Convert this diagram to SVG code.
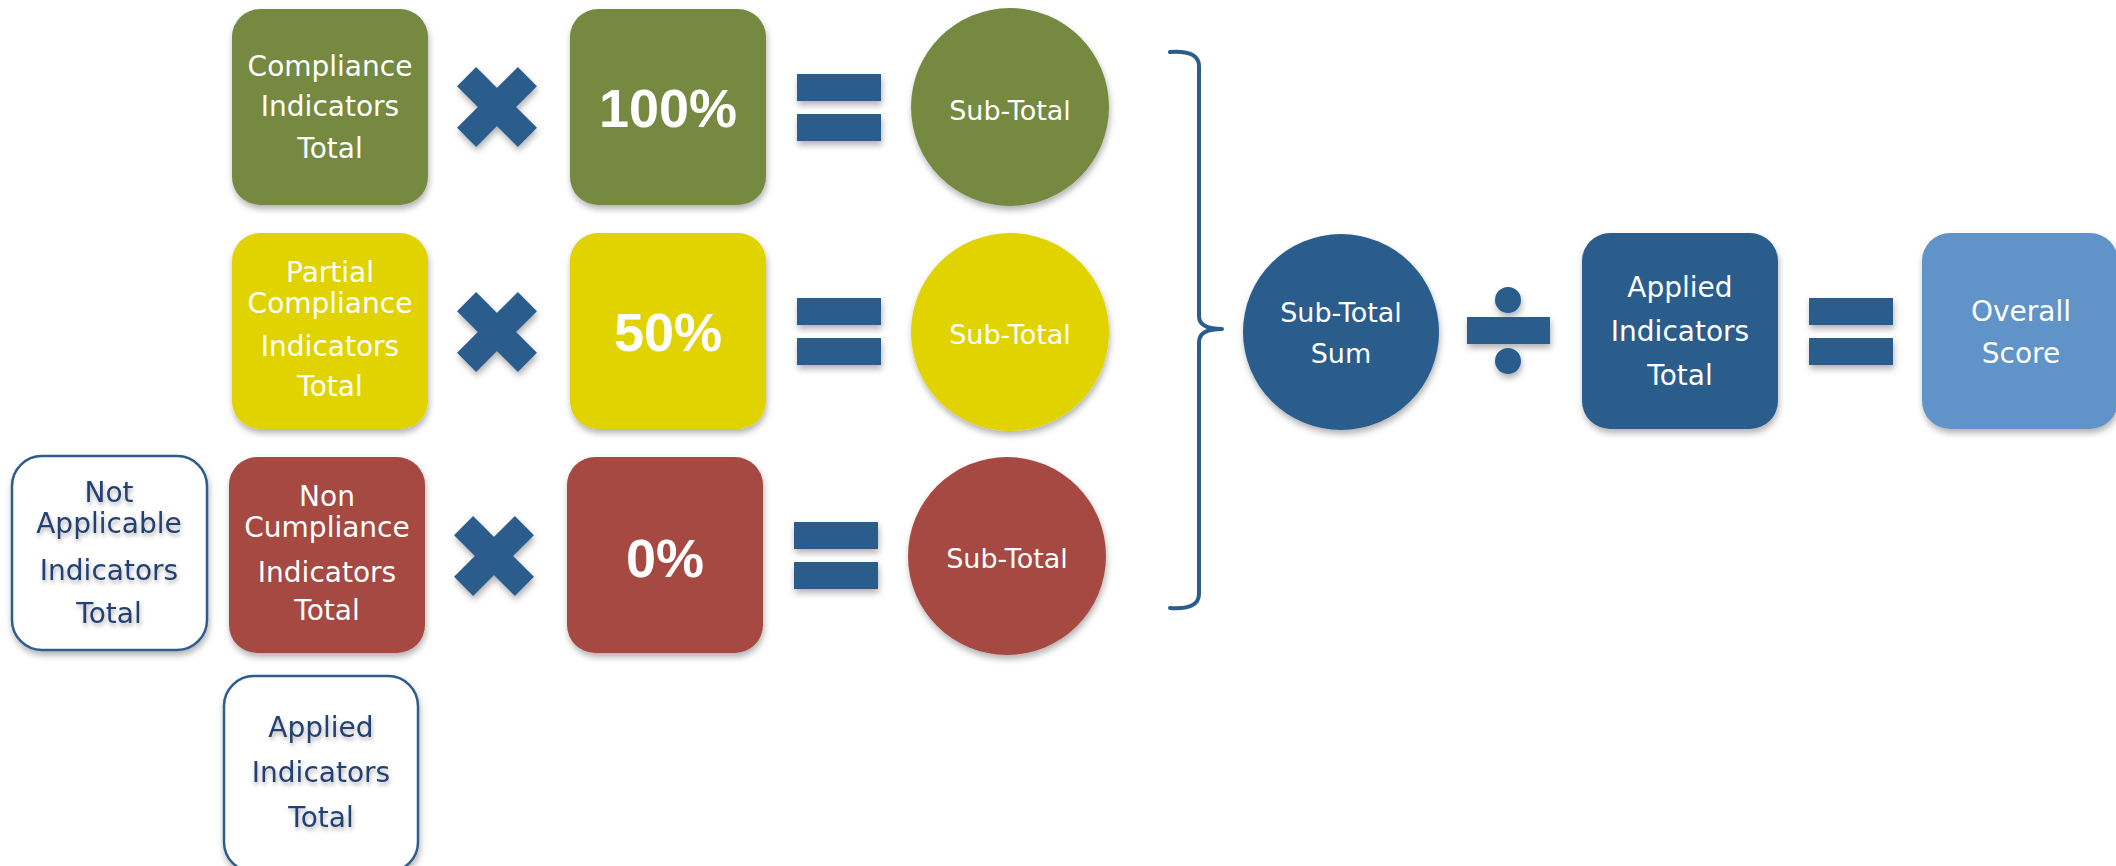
<svg xmlns="http://www.w3.org/2000/svg" width="2116" height="866" viewBox="0 0 2116 866">
  <defs>
    <filter id="shadow" x="-20%" y="-20%" width="140%" height="150%">
      <feDropShadow dx="1" dy="4" stdDeviation="3" flood-color="#000" flood-opacity="0.3"/>
    </filter>
    <filter id="tshadow" x="-10%" y="-20%" width="120%" height="160%">
      <feDropShadow dx="1" dy="3" stdDeviation="2" flood-color="#000" flood-opacity="0.3"/>
    </filter>
    <g id="times">
      <rect x="-43" y="-13.5" width="86" height="27" transform="rotate(45)"/>
      <rect x="-43" y="-13.5" width="86" height="27" transform="rotate(-45)"/>
    </g>
    <g id="equals">
      <rect x="0" y="0" width="84" height="27"/>
      <rect x="0" y="40" width="84" height="27"/>
    </g>
  </defs>
  <style>
    .green { fill: #76893f; }
    .yellow { fill: #e1d300; }
    .red { fill: #a54a43; }
    .blue { fill: #2a5d8c; }
    .light { fill: #6193c7; }
    .shape { filter: url(#shadow); }
    .outline { fill: #ffffff; stroke: #2f5b8c; stroke-width: 2.5; filter: url(#shadow); }
    .op { fill: #2a5d8c; filter: url(#shadow); }
    text { font-family: "DejaVu Sans", "Liberation Sans", sans-serif; text-anchor: middle; }
    .lbl { font-size: 28px; fill: #ffffff; }
    .sub { font-size: 27px; fill: #ffffff; }
    .dark { font-size: 28px; fill: #233f72; filter: url(#tshadow); }
    .pct { font-family: "Liberation Sans", Arial, sans-serif; font-weight: bold; font-size: 54px; fill: #ffffff; }
    .brace { fill: none; stroke: #2a5d8c; stroke-width: 4; stroke-linecap: round; stroke-linejoin: round; }
  </style>

  <!-- Row 1: compliance -->
  <g id="compliance-total">
    <rect class="green shape" x="232" y="9" width="196" height="196" rx="28"/>
    <text class="lbl" x="330" y="76">Compliance</text>
    <text class="lbl" x="330" y="116">Indicators</text>
    <text class="lbl" x="330" y="158">Total</text>
  </g>
  <g id="times-1" class="op"><use href="#times" transform="translate(497,107)"/></g>
  <g id="pct-100">
    <rect class="green shape" x="570" y="9" width="196" height="196" rx="28"/>
    <text class="pct" x="668" y="127">100%</text>
  </g>
  <g id="equals-1" class="op"><use href="#equals" transform="translate(797,74)"/></g>
  <g id="subtotal-1">
    <circle class="green shape" cx="1010" cy="107" r="99"/>
    <text class="sub" x="1010" y="120">Sub-Total</text>
  </g>

  <!-- Row 2: partial compliance -->
  <g id="partial-total">
    <rect class="yellow shape" x="232" y="233" width="196" height="196" rx="28"/>
    <text class="lbl" x="330" y="282">Partial</text>
    <text class="lbl" x="330" y="313">Compliance</text>
    <text class="lbl" x="330" y="356">Indicators</text>
    <text class="lbl" x="330" y="396">Total</text>
  </g>
  <g id="times-2" class="op"><use href="#times" transform="translate(497,332)"/></g>
  <g id="pct-50">
    <rect class="yellow shape" x="570" y="233" width="196" height="196" rx="28"/>
    <text class="pct" x="668" y="351">50%</text>
  </g>
  <g id="equals-2" class="op"><use href="#equals" transform="translate(797,298)"/></g>
  <g id="subtotal-2">
    <circle class="yellow shape" cx="1010" cy="332" r="99"/>
    <text class="sub" x="1010" y="344">Sub-Total</text>
  </g>

  <!-- Row 3: non compliance -->
  <g id="not-applicable-total">
    <rect class="outline" x="12" y="456" width="195" height="194" rx="30"/>
    <text class="dark" x="109" y="502">Not</text>
    <text class="dark" x="109" y="533">Applicable</text>
    <text class="dark" x="109" y="580">Indicators</text>
    <text class="dark" x="109" y="623">Total</text>
  </g>
  <g id="non-compliance-total">
    <rect class="red shape" x="229" y="457" width="196" height="196" rx="28"/>
    <text class="lbl" x="327" y="506">Non</text>
    <text class="lbl" x="327" y="537">Cumpliance</text>
    <text class="lbl" x="327" y="582">Indicators</text>
    <text class="lbl" x="327" y="620">Total</text>
  </g>
  <g id="times-3" class="op"><use href="#times" transform="translate(494,556)"/></g>
  <g id="pct-0">
    <rect class="red shape" x="567" y="457" width="196" height="196" rx="28"/>
    <text class="pct" x="665" y="577">0%</text>
  </g>
  <g id="equals-3" class="op"><use href="#equals" transform="translate(794,522)"/></g>
  <g id="subtotal-3">
    <circle class="red shape" cx="1007" cy="556" r="99"/>
    <text class="sub" x="1007" y="568">Sub-Total</text>
  </g>

  <!-- Applied indicators (left column) -->
  <g id="applied-total-left">
    <rect class="outline" x="224" y="676" width="194" height="196" rx="30"/>
    <text class="dark" x="321" y="737">Applied</text>
    <text class="dark" x="321" y="782">Indicators</text>
    <text class="dark" x="321" y="827">Total</text>
  </g>

  <!-- Summation and final score -->
  <g id="subtotal-sum">
    <circle class="blue shape" cx="1341" cy="332" r="98"/>
    <text class="sub" x="1341" y="322">Sub-Total</text>
    <text class="sub" x="1341" y="363">Sum</text>
  </g>
  <g id="divide" class="op">
    <circle cx="1508" cy="300" r="13"/>
    <rect x="1467" y="317" width="83" height="27"/>
    <circle cx="1508" cy="361" r="13"/>
  </g>
  <g id="applied-total">
    <rect class="blue shape" x="1582" y="233" width="196" height="196" rx="28"/>
    <text class="lbl" x="1680" y="297">Applied</text>
    <text class="lbl" x="1680" y="341">Indicators</text>
    <text class="lbl" x="1680" y="385">Total</text>
  </g>
  <g id="equals-4" class="op"><use href="#equals" transform="translate(1809,298)"/></g>
  <g id="overall-score">
    <rect class="light shape" x="1922" y="233" width="196" height="196" rx="28"/>
    <text class="lbl" x="2021" y="321">Overall</text>
    <text class="lbl" x="2021" y="363">Score</text>
  </g>

  <!-- Connectors -->
  <g id="connectors">
    <path class="brace" d="M1170,52 Q1199,50 1199,66 L1199,316 Q1199,329 1222,329 Q1199,329 1199,342 L1199,594 Q1199,610 1170,608"/>
  </g>
</svg>
